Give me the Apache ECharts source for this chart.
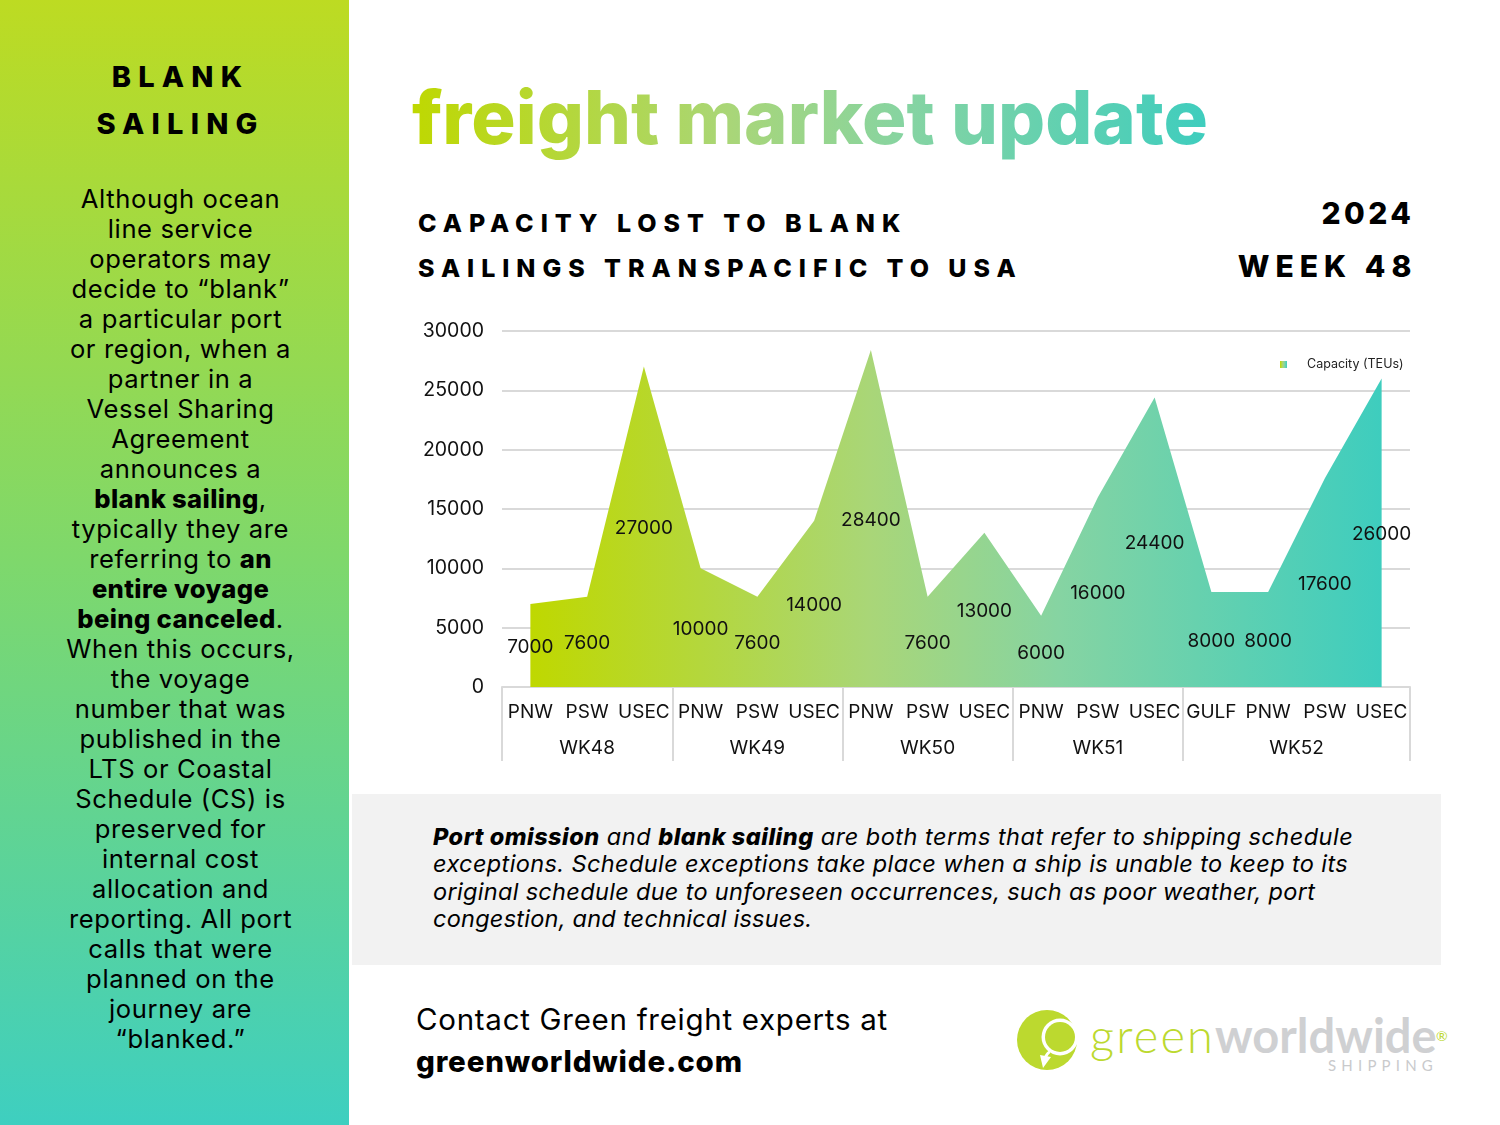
<!DOCTYPE html>
<html><head><meta charset="utf-8">
<script src="https://cdn.jsdelivr.net/npm/echarts@6/dist/echarts.min.js"></script>
<style>
html,body{margin:0;padding:0;background:#fff;}
#page{position:relative;width:1500px;height:1125px;overflow:hidden;font-family:Inter,"Open Sans",sans-serif;color:#000;background:#fff;}
#panel{position:absolute;left:0;top:0;width:349px;height:1125px;background:linear-gradient(180deg,#bddb22 0%,#7ed86c 50%,#3ecfc0 100%);}
.l{position:absolute;white-space:nowrap;line-height:1;}
.c{left:0;width:361px;text-align:center;}
.body{font-size:25.6px;letter-spacing:.6px;font-weight:400;}
.body b{font-weight:800;letter-spacing:.35px;}
.head{font-size:29px;font-weight:800;letter-spacing:7.2px;}
#title{left:410px;top:72px;font-size:74px;font-weight:800;letter-spacing:0;line-height:90px;background:linear-gradient(90deg,#bfd800 0%,#a9d678 40%,#86d4a2 62%,#3ecdbe 100%);-webkit-background-clip:text;background-clip:text;color:transparent;padding-right:2px;padding-left:2px;}
.sub{left:418px;font-size:25px;font-weight:800;letter-spacing:6.95px;}
.rt{font-weight:800;text-align:right;}
#box{position:absolute;left:352px;top:794px;width:1089px;height:171px;background:#f2f2f2;}
.it{left:433px;font-size:23.5px;font-style:italic;}
.it b{font-weight:800;}
#chart{position:absolute;left:0;top:0;width:1500px;height:1125px;}
</style></head><body>
<div id="page">
<div id="panel"></div>
<div class="l c head" style="top:62px;">BLANK</div>
<div class="l c head" style="top:109px;">SAILING</div>
<div id="bodyLines"></div>
<div class="l" id="title">freight market update</div>
<div class="l sub" style="top:211px;">CAPACITY LOST TO BLANK</div>
<div class="l sub" style="top:256px;">SAILINGS TRANSPACIFIC TO USA</div>
<div class="l rt" style="top:198px;right:85.6px;font-size:30px;letter-spacing:3.4px;">2024</div>
<div class="l rt" style="top:251px;right:82.6px;font-size:30px;letter-spacing:6px;">WEEK 48</div>
<div id="box"></div>
<div class="l it" style="top:825px;letter-spacing:.5px;"><b>Port omission</b> and <b>blank sailing</b> are both terms that refer to shipping schedule</div>
<div class="l it" style="top:852px;letter-spacing:.39px;">exceptions. Schedule exceptions take place when a ship is unable to keep to its</div>
<div class="l it" style="top:880px;letter-spacing:.32px;">original schedule due to unforeseen occurrences, such as poor weather, port</div>
<div class="l it" style="top:907px;letter-spacing:.25px;">congestion, and technical issues.</div>
<div class="l" style="left:416px;top:1005px;font-size:29.5px;letter-spacing:.72px;">Contact Green freight experts at</div>
<div class="l" style="left:416px;top:1047px;font-size:29.5px;font-weight:800;letter-spacing:.83px;">greenworldwide.com</div>
<svg style="position:absolute;left:1010px;top:1005px" width="72" height="72" viewBox="0 0 72 72">
<circle cx="37" cy="35" r="30" fill="#bcd92f"/>
<circle cx="50" cy="32" r="18.5" fill="#fff"/>
<circle cx="50" cy="32" r="15" fill="#bcd92f"/>
<path d="M30 50 L41 52 L33 63 Z" fill="#fff"/>
<path d="M35 53 Q38 47 40 47" fill="none" stroke="#fff" stroke-width="3"/>
</svg>
<div class="l" style="left:1090px;top:1012px;font-family:Lato;font-size:47px;font-weight:300;letter-spacing:2.2px;color:#bcd92f;">green</div>
<div class="l" style="left:1215px;top:1012px;font-family:Lato;font-size:47px;font-weight:700;color:#cfd0d2;">worldwide</div>
<div class="l" style="left:1436px;top:1029px;font-family:Lato;font-size:14px;color:#bcd92f;">®</div>
<div class="l" style="left:1328px;top:1058px;font-family:Lato;font-size:15px;letter-spacing:5.2px;color:#c9cacc;">SHIPPING</div>
<div id="chart"></div>
</div>
<script>
// ---- chart data ----
const categories = ['PNW','PSW','USEC','PNW','PSW','USEC','PNW','PSW','USEC','PNW','PSW','USEC','GULF','PNW','PSW','USEC'];
const capacityTeus = [7000,7600,27000,10000,7600,14000,28400,7600,13000,6000,16000,24400,8000,8000,17600,26000];
const weekLabels = ['WK48','WK49','WK50','WK51','WK52'];
const weekCenters = [1.5,4.5,7.5,10.5,14];
const weekEdges = [0,3,6,9,12,16];
const seriesName = 'Capacity (TEUs)';
const panelLines = [
 'Although ocean','line service','operators may','decide to “blank”','a particular port','or region, when a','partner in a','Vessel Sharing','Agreement','announces a',
 '<b>blank sailing</b>,','typically they are','referring to <b>an</b>','<b>entire voyage</b>','<b>being canceled</b>.','When this occurs,','the voyage','number that was','published in the','LTS or Coastal',
 'Schedule (CS) is','preserved for','internal cost','allocation and','reporting. All port','calls that were','planned on the','journey are','“blanked.”'
];
// ---- side panel text ----
document.getElementById('bodyLines').innerHTML = panelLines.map((t,i)=>
  '<div class="l c body" style="top:'+(186+i*30)+'px">'+t+'</div>').join('');
// ---- chart ----
const FONT = 'Inter';
const AXIS = '#d9d9d9';
const fillGrad = () => new echarts.graphic.LinearGradient(0,0,1,0,[
  {offset:0,color:'#bfd800'},{offset:.4,color:'#a9d678'},{offset:.62,color:'#86d4a2'},{offset:1,color:'#3ecdbe'}]);
const chart = echarts.init(document.getElementById('chart'),null,{renderer:'canvas',width:1500,height:1125});
chart.setOption({
  animation:false,
  backgroundColor:'transparent',
  grid:{left:502,top:331,width:908,height:356,containLabel:false},
  legend:{show:true,left:1275,top:353,itemWidth:7,itemHeight:7,
    data:[{name:seriesName,icon:'rect',itemStyle:{color:fillGrad()}}],
    textStyle:{fontFamily:FONT,fontSize:12.5,color:'#222',padding:[0,0,0,15]}},
  xAxis:[
    {type:'category',data:categories,boundaryGap:true,position:'bottom',
     axisLine:{show:true,lineStyle:{color:AXIS,width:2}},axisTick:{show:false},
     axisLabel:{interval:0,margin:16,fontFamily:FONT,fontSize:19,color:'#111'}},
    {type:'value',min:0,max:16,position:'bottom',splitLine:{show:false},
     axisLine:{show:false},
     axisTick:{show:true,length:74,customValues:weekEdges,lineStyle:{color:AXIS,width:2}},
     axisLabel:{show:true,margin:52,customValues:weekCenters,fontFamily:FONT,fontSize:19,color:'#111',
       formatter:v=>weekLabels[weekCenters.indexOf(v)]||''}}
  ],
  yAxis:{type:'value',min:0,max:30000,interval:5000,
    axisLine:{show:false},axisTick:{show:false},
    splitLine:{show:true,lineStyle:{color:AXIS,width:2}},
    axisLabel:{margin:18,fontFamily:FONT,fontSize:19.5,color:'#111',formatter:v=>String(v)}},
  series:[
    {name:seriesName,type:'line',xAxisIndex:0,data:capacityTeus,symbol:'none',showSymbol:false,
     lineStyle:{width:0},itemStyle:{color:'#8fd596'},areaStyle:{color:fillGrad(),opacity:1},z:2},
    {name:'labels',type:'custom',xAxisIndex:0,silent:true,z:3,
     data:capacityTeus.map((v,i)=>[i,v]),
     renderItem:(p,api)=>{
       const v=api.value(1), pt=api.coord([api.value(0),v/2]);
       return {type:'text',x:pt[0],y:pt[1]+1.5,style:{text:String(v),fill:'#111',fontFamily:FONT,fontSize:19,align:'center',verticalAlign:'middle'}};
     }}
  ]
});
</script>
</body></html>
